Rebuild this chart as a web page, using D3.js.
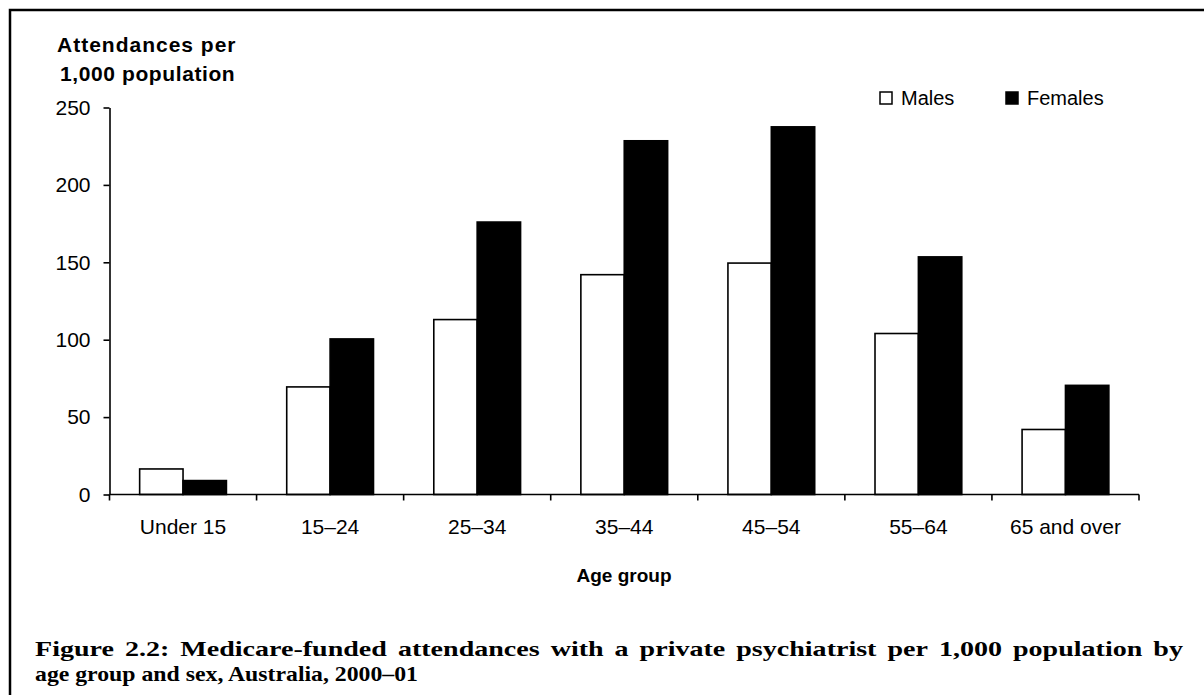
<!DOCTYPE html>
<html><head><meta charset="utf-8">
<script src="https://cdn.jsdelivr.net/npm/d3@7"></script>
<style>body{margin:0;background:#fff}svg{display:block}</style>
</head><body>
<svg id="c" width="1204" height="695"></svg>
<script>
const categories = ["Under 15","15–24","25–34","35–44","45–54","55–64","65 and over"];
const males   = [16.5, 69.5, 113, 142, 149.5, 104, 42];
const females = [9, 100.5, 176, 228.5, 237.5, 153.5, 70.5];
const yTicks  = [0, 50, 100, 150, 200, 250];
const seriesNames = ["Males","Females"];
const captionLines = [
  "Figure 2.2: Medicare-funded attendances with a private psychiatrist per 1,000 population by",
  "age group and sex, Australia, 2000–01"
];

const svg = d3.select("#c");
const font = "'Liberation Sans', Arial, sans-serif";

// frame
svg.append("rect").attr("x",10).attr("y",10).attr("width",1220).attr("height",720)
  .attr("fill","none").attr("stroke","#000").attr("stroke-width",2.5);

const x0 = 109.5, x1 = 1139, yTop = 107.5, yBot = 494.5;
const x = d3.scaleBand().domain(categories).range([x0, x1]).paddingInner(0.41).paddingOuter(0.205);
const xs = d3.scaleBand().domain(seriesNames).range([0, x.bandwidth()]);
const y = d3.scaleLinear().domain([0,250]).range([yBot, yTop]);

const data = categories.map((c,i)=>({c, v:[males[i], females[i]]}));
const g = svg.append("g");
data.forEach(d=>{
  g.selectAll(null).data(seriesNames.map((s,j)=>({s, v:d.v[j]}))).enter().append("rect")
    .attr("x", e=>x(d.c)+xs(e.s))
    .attr("y", e=>y(e.v))
    .attr("width", xs.bandwidth())
    .attr("height", e=>yBot - y(e.v))
    .attr("fill", e=>e.s==="Males"?"#fff":"#000")
    .attr("stroke","#000").attr("stroke-width",1.6);
});

// y axis
const ya = svg.append("g").attr("transform",`translate(${x0},0)`)
  .call(d3.axisLeft(y).tickValues(yTicks).tickSize(6).tickPadding(13).tickSizeOuter(0));
ya.select(".domain").attr("stroke-width",1.6);
ya.selectAll(".tick line").attr("stroke-width",1.6);
ya.selectAll("text").attr("font-family",font).attr("font-size",21).attr("fill","#000");

// x axis
const step = (x1-x0)/categories.length;
const xa = svg.append("g").attr("transform",`translate(0,${yBot})`);
xa.append("line").attr("x1",x0).attr("x2",x1).attr("stroke","#000").attr("stroke-width",1.6);
d3.range(categories.length+1).forEach(i=>{
  xa.append("line").attr("x1",x0+i*step).attr("x2",x0+i*step).attr("y1",0).attr("y2",6)
    .attr("stroke","#000").attr("stroke-width",1.6);
});
xa.selectAll("text.xl").data(categories).enter().append("text")
  .attr("x",d=>x(d)+x.bandwidth()/2).attr("y",39).attr("text-anchor","middle")
  .attr("font-family",font).attr("font-size",21).text(d=>d);

// axis titles
svg.append("text").attr("x",57).attr("y",52).attr("font-family",font).attr("font-size",21)
  .attr("font-weight","bold").attr("letter-spacing",1).text("Attendances per");
svg.append("text").attr("x",60).attr("y",81).attr("font-family",font).attr("font-size",21)
  .attr("font-weight","bold").attr("letter-spacing",0.6).text("1,000 population");
svg.append("text").attr("x",624).attr("y",582).attr("text-anchor","middle").attr("font-family",font)
  .attr("font-size",19).attr("font-weight","bold").text("Age group");

// legend
const leg = svg.append("g");
const legX = [880, 1006];
seriesNames.forEach((s,i)=>{
  leg.append("rect").attr("x",legX[i]).attr("y",92).attr("width",12).attr("height",12)
    .attr("fill", i===0?"#fff":"#000").attr("stroke","#000").attr("stroke-width",1.5);
  leg.append("text").attr("x",legX[i]+21).attr("y",105).attr("font-family",font)
    .attr("font-size",20).text(s);
});

// caption
const cap = "'Liberation Serif','Times New Roman',serif";
const capFs = 22, capX = 35, lineW = 1148, wordGap = 11;
svg.append("text").attr("x",capX).attr("y",681).attr("font-family",cap).attr("font-size",capFs)
  .attr("font-weight","bold").attr("textLength",383).attr("lengthAdjust","spacingAndGlyphs")
  .text(captionLines[1]);
const words = captionLines[0].split(" ");
const wg = svg.append("g");
const wt = words.map(w => wg.append("text").attr("y",656).attr("font-family",cap)
  .attr("font-size",capFs).attr("font-weight","bold").text(w));
const nat = wt.map(t => t.node().getComputedTextLength());
const s1 = (lineW - wordGap*(words.length-1)) / d3.sum(nat);
let cx = capX;
wt.forEach((t,i)=>{
  const w = nat[i]*s1;
  t.attr("x",cx).attr("textLength",w).attr("lengthAdjust","spacingAndGlyphs");
  cx += w + wordGap;
});
</script>
</body></html>
